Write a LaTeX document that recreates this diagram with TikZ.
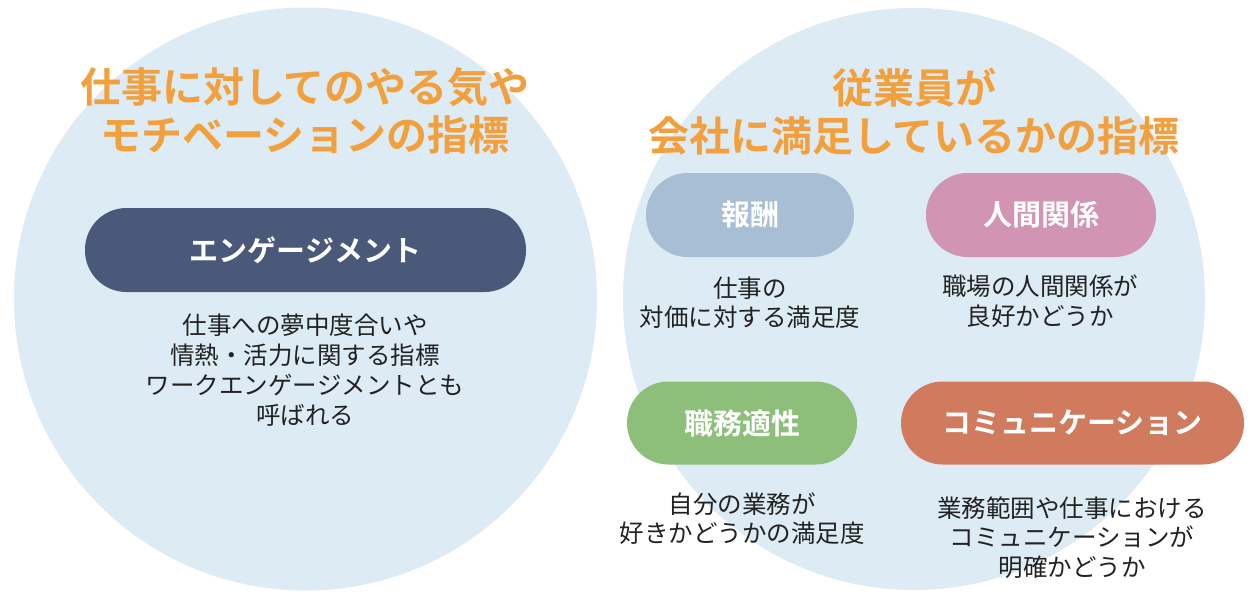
\documentclass[tikz,border=0pt]{standalone}
\usepackage{fontspec}
\setmainfont{Noto Sans CJK JP}[BoldFont={Noto Sans CJK JP Bold}]
\definecolor{bgc}{HTML}{DDEBF5}
\definecolor{ttl}{HTML}{F2A03D}
\definecolor{navy}{HTML}{4A5879}
\definecolor{pblue}{HTML}{A8BED4}
\definecolor{ppink}{HTML}{D194B3}
\definecolor{pgreen}{HTML}{8DBE7A}
\definecolor{pred}{HTML}{D07A5E}
\definecolor{bodyc}{HTML}{222222}
\tikzset{
  circ/.style={fill=bgc, draw=none},
  title/.style={text=ttl, font=\fontsize{41}{48}\selectfont\bfseries, align=center, inner sep=0pt},
  pill/.style={rounded corners=41.5pt, minimum height=84pt, inner sep=0pt, text=white,
    font=\fontsize{29}{34}\selectfont\bfseries},
  body/.style={text=bodyc, font=\fontsize{24.5}{29.5}\selectfont, align=center, inner sep=0pt},
  bodyl/.style={text=bodyc, font=\fontsize{24.5}{30}\selectfont, align=center, inner sep=0pt}
}
\begin{document}
\begin{tikzpicture}[x=1pt,y=-1pt]
\useasboundingbox (0,0) rectangle (1256,598);
\fill[white] (0,0) rectangle (1256,598);
% circles
\path[circ] (305.5,299) circle[radius=291.5pt];
\path[circ] (914,299) circle[radius=291pt];
% left side
\node[title] (lt) at (305,111) {仕事に対してのやる気や\\モチベーションの指標};
\node[pill, fill=navy, minimum width=441pt] (eng) at (305.5,250) {エンゲージメント};
\node[bodyl] (engt) at (305,370) {仕事への夢中度合いや\\情熱・活力に関する指標\\ワークエンゲージメントとも\\呼ばれる};
% right side
\node[title] (rt) at (914,112) {従業員が\\会社に満足しているかの指標};
\node[pill, fill=pblue, minimum width=208pt] (hos) at (750,215) {報酬};
\node[pill, fill=ppink, minimum width=230pt] (nin) at (1041,215) {人間関係};
\node[pill, fill=pgreen, minimum width=230pt, minimum height=83pt] (shk) at (742,423) {職務適性};
\node[pill, fill=pred, minimum width=343pt, minimum height=83pt] (com) at (1072.5,423) {コミュニケーション};
\node[body] (host) at (750,302.5) {仕事の\\対価に対する満足度};
\node[body] (nint) at (1040,301) {職場の人間関係が\\良好かどうか};
\node[body] (shkt) at (742,518.5) {自分の業務が\\好きかどうかの満足度};
\node[body] (comt) at (1072,537.5) {業務範囲や仕事における\\コミュニケーションが\\明確かどうか};
\end{tikzpicture}
\end{document}
